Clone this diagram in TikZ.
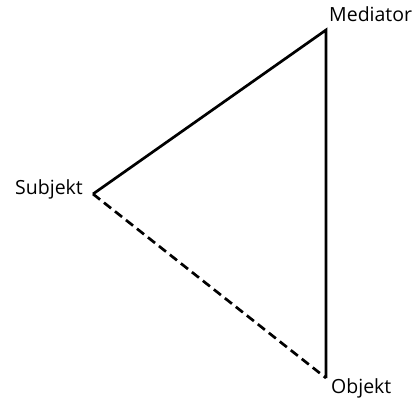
\documentclass[tikz,border=0pt]{standalone}
\usepackage{fontspec}
\setmainfont{Open Sans}
\usetikzlibrary{positioning}

\begin{document}
\begin{tikzpicture}[x=1pt, y=-1pt,
    vertex/.style={inner sep=0pt, minimum size=0pt},
    lbl/.style={font=\fontsize{19.5}{22}\selectfont, inner sep=0pt},
    edge/.style={line width=2.7pt, line cap=butt, line join=miter},
    weak/.style={edge, dash pattern=on 9pt off 5pt}]
    \useasboundingbox (0,0) rectangle (419,401);

    % corners
    \coordinate (subj) at (93,194);
    \coordinate (med) at (326,30);
    \coordinate (obj) at (326,378);

    % labels
    \node[lbl, anchor=base west] (medlabel) at (329,22) {Mediator};
    \node[lbl, anchor=east] (subjlabel) at (83,189) {Subjekt};
    \node[lbl, anchor=west] (objlabel) at (331,388) {Objekt};

    % triangle
    \draw[edge] (subj) -- (med) -- (obj);
    \draw[weak] (subj) -- (obj);

\end{tikzpicture}
\end{document}
